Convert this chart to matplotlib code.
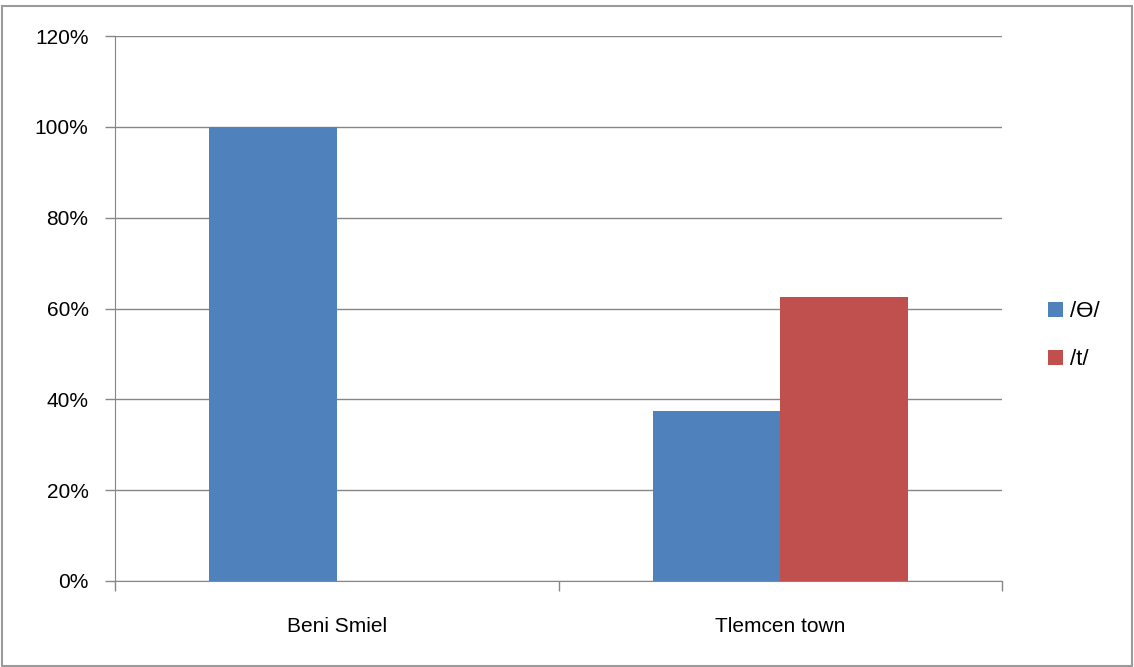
import numpy as np
import matplotlib.pyplot as plt
from matplotlib.patches import Rectangle

categories = ["Beni Smiel", "Tlemcen town"]
series_names = ["/\u019f/", "/t/"]
theta_vals = [1.00, 0.375]
t_vals = [0.0, 0.625]
colors = ["#4f81bd", "#c0504d"]

plt.rcParams['font.family'] = ['Liberation Sans', 'DejaVu Sans']

fig = plt.figure(figsize=(11.34, 6.67), dpi=100)
ax = fig.add_axes([115 / 1134, 86 / 667, 887 / 1134, 545 / 667])

x = np.arange(len(categories))
w = 0.2875
ax.bar(x - w / 2, theta_vals, w, color=colors[0], label=series_names[0], zorder=3)
ax.bar(x + w / 2, t_vals, w, color=colors[1], label=series_names[1], zorder=3)

ax.set_xlim(-0.5, 1.5)
ax.set_ylim(0, 1.2)
ax.set_yticks(np.arange(0, 1.21, 0.2))
ax.set_yticklabels(["%d%%" % round(v * 100) for v in np.arange(0, 1.21, 0.2)], fontsize=15)
ax.set_xticks(x)
ax.set_xticklabels(categories, fontsize=15)
ax.set_xticks([-0.5, 0.5, 1.5], minor=True)
ax.tick_params(axis='x', which='major', length=0, pad=26)
ax.tick_params(axis='x', which='minor', length=7, color="#868686", width=1)
ax.tick_params(axis='y', length=7, color="#868686", width=1, pad=12)

ax.grid(axis='y', color="#868686", linewidth=1, zorder=0)
for s in ["top", "right"]:
    ax.spines[s].set_visible(False)
ax.spines["left"].set_color("#868686")
ax.spines["bottom"].set_color("#868686")

ax.legend(loc="center left", bbox_to_anchor=(1.029, 0.45), frameon=False,
          fontsize=16, handlelength=0.7, handleheight=0.7, handletextpad=0.3,
          labelspacing=1.2)

fig.patches.append(Rectangle((2 / 1134, 1 / 667), 1130 / 1134, 660 / 667,
                             transform=fig.transFigure, fill=False,
                             edgecolor="#9a9a9a", linewidth=1.5))

fig.savefig("out.png", dpi=100)
